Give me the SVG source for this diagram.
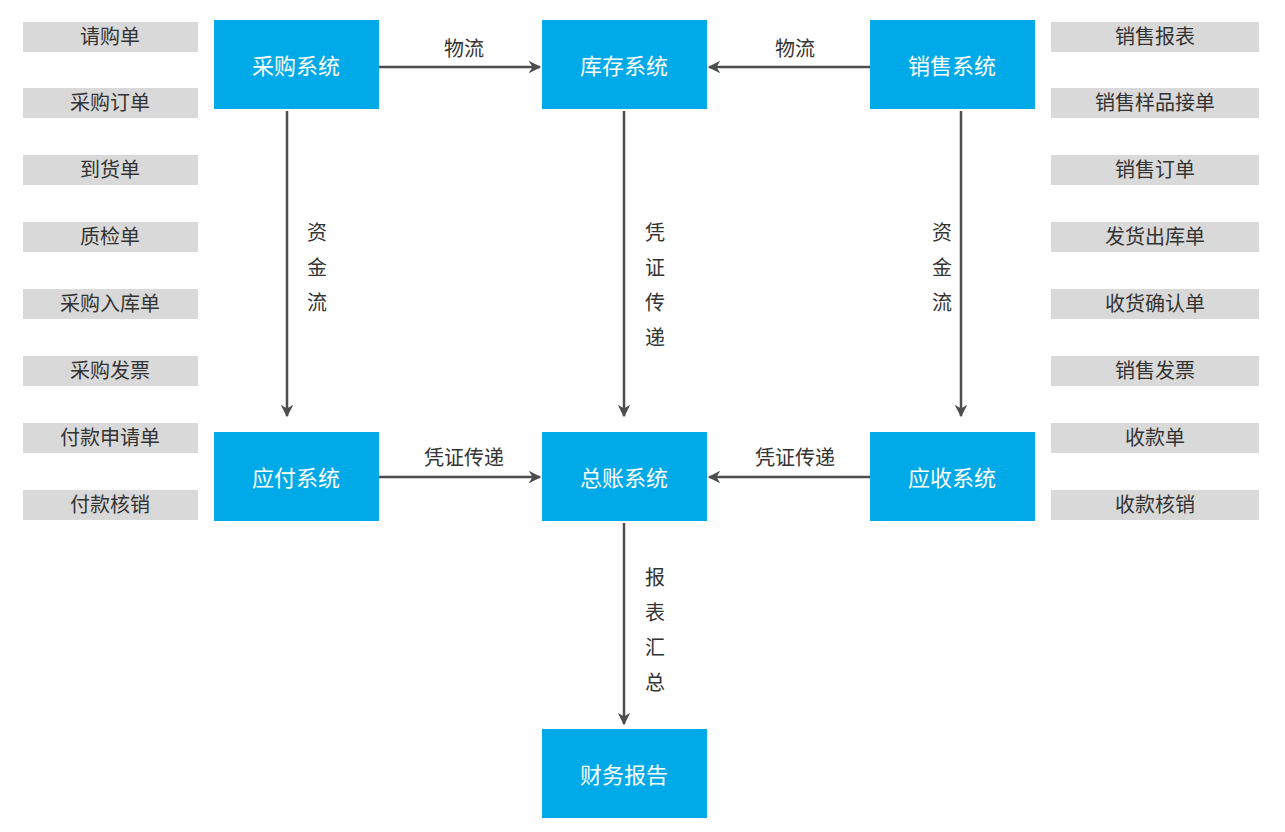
<svg xmlns="http://www.w3.org/2000/svg" width="1285" height="832" viewBox="0 0 1285 832">
<style>
.b{fill:#00aae9}
.bt{fill:#fff;font-size:22px;font-family:"Liberation Sans","Noto Sans CJK SC",sans-serif;text-anchor:middle;dominant-baseline:central}
.g{fill:#d9d9d9}
.gt{fill:#333;font-size:20px;font-family:"Liberation Sans","Noto Sans CJK SC",sans-serif;text-anchor:middle;dominant-baseline:central}
.l{stroke:#4d4d4d;stroke-width:2.5;fill:none;marker-end:url(#a)}
.lt{fill:#333;font-size:20px;font-family:"Liberation Sans","Noto Sans CJK SC",sans-serif;text-anchor:middle}
</style>
<defs><marker id="a" viewBox="0 0 10 10" refX="9" refY="5" markerWidth="5" markerHeight="5" orient="auto" markerUnits="strokeWidth"><path d="M0,0L10,5L0,10L3,5Z" fill="#4d4d4d"/></marker></defs>
<rect width="1285" height="832" fill="#fff"/>
<g id="left-list">
<rect class="g" x="23" y="22" width="175" height="30"/><text class="gt" x="110" y="37">请购单</text>
<rect class="g" x="23" y="88" width="175" height="30"/><text class="gt" x="110" y="103">采购订单</text>
<rect class="g" x="23" y="155" width="175" height="30"/><text class="gt" x="110" y="170">到货单</text>
<rect class="g" x="23" y="222" width="175" height="30"/><text class="gt" x="110" y="237">质检单</text>
<rect class="g" x="23" y="289" width="175" height="30"/><text class="gt" x="110" y="304">采购入库单</text>
<rect class="g" x="23" y="356" width="175" height="30"/><text class="gt" x="110" y="371">采购发票</text>
<rect class="g" x="23" y="423" width="175" height="30"/><text class="gt" x="110" y="438">付款申请单</text>
<rect class="g" x="23" y="490" width="175" height="30"/><text class="gt" x="110" y="505">付款核销</text>
</g>
<g id="right-list">
<rect class="g" x="1051" y="22" width="208" height="30"/><text class="gt" x="1155" y="37">销售报表</text>
<rect class="g" x="1051" y="88" width="208" height="30"/><text class="gt" x="1155" y="103">销售样品接单</text>
<rect class="g" x="1051" y="155" width="208" height="30"/><text class="gt" x="1155" y="170">销售订单</text>
<rect class="g" x="1051" y="222" width="208" height="30"/><text class="gt" x="1155" y="237">发货出库单</text>
<rect class="g" x="1051" y="289" width="208" height="30"/><text class="gt" x="1155" y="304">收货确认单</text>
<rect class="g" x="1051" y="356" width="208" height="30"/><text class="gt" x="1155" y="371">销售发票</text>
<rect class="g" x="1051" y="423" width="208" height="30"/><text class="gt" x="1155" y="438">收款单</text>
<rect class="g" x="1051" y="490" width="208" height="30"/><text class="gt" x="1155" y="505">收款核销</text>
</g>
<g id="caigou"><rect class="b" x="214" y="20" width="165" height="89"/><text class="bt" x="296" y="66">采购系统</text></g>
<g id="kucun"><rect class="b" x="542" y="20" width="165" height="89"/><text class="bt" x="624" y="66">库存系统</text></g>
<g id="xiaoshou"><rect class="b" x="870" y="20" width="165" height="89"/><text class="bt" x="952" y="66">销售系统</text></g>
<g id="yingfu"><rect class="b" x="214" y="432" width="165" height="89"/><text class="bt" x="296" y="478">应付系统</text></g>
<g id="zongzhang"><rect class="b" x="542" y="432" width="165" height="89"/><text class="bt" x="624" y="478">总账系统</text></g>
<g id="yingshou"><rect class="b" x="870" y="432" width="165" height="89"/><text class="bt" x="952" y="478">应收系统</text></g>
<g id="caiwu"><rect class="b" x="542" y="729" width="165" height="89"/><text class="bt" x="624" y="775">财务报告</text></g>
<g id="connectors">
<path class="l" d="M379,67H540"/><text class="lt" x="464" y="56">物流</text>
<path class="l" d="M870,67H709"/><text class="lt" x="795" y="56">物流</text>
<path class="l" d="M287,111V416"/>
<text class="lt" x="317" y="240">资</text><text class="lt" x="317" y="275">金</text><text class="lt" x="317" y="310">流</text>
<path class="l" d="M624,111V416"/>
<text class="lt" x="655" y="240">凭</text><text class="lt" x="655" y="275">证</text><text class="lt" x="655" y="310">传</text><text class="lt" x="655" y="345">递</text>
<path class="l" d="M961,111V416"/>
<text class="lt" x="942" y="240">资</text><text class="lt" x="942" y="275">金</text><text class="lt" x="942" y="310">流</text>
<path class="l" d="M379,477H540"/><text class="lt" x="464" y="465">凭证传递</text>
<path class="l" d="M870,477H709"/><text class="lt" x="795" y="465">凭证传递</text>
<path class="l" d="M624,523V724"/>
<text class="lt" x="655" y="585">报</text><text class="lt" x="655" y="620">表</text><text class="lt" x="655" y="655">汇</text><text class="lt" x="655" y="690">总</text>
</g>
</svg>
